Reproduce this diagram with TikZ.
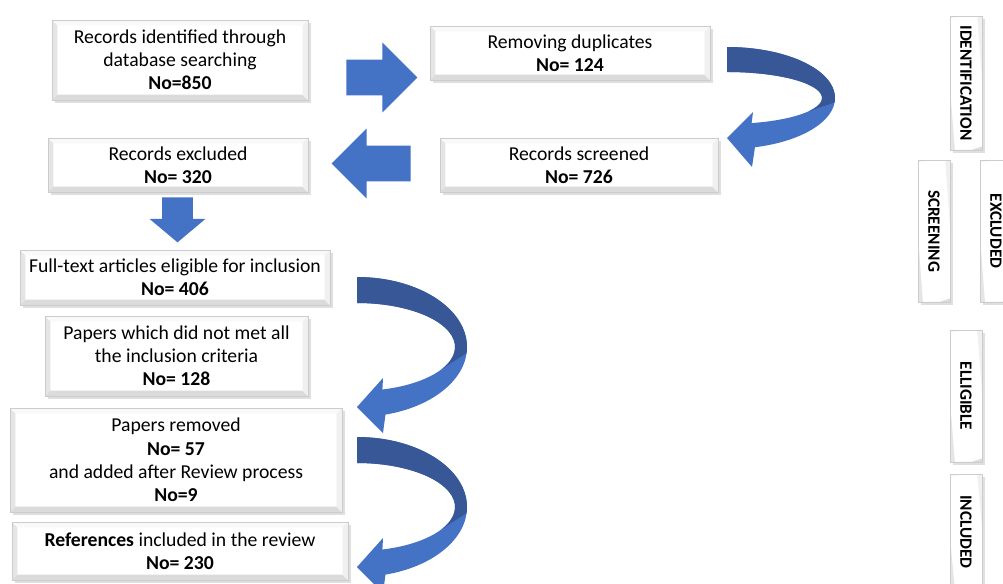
\documentclass[tikz,border=0pt]{standalone}
\usepackage{fontspec}
\setmainfont{Carlito}
\usetikzlibrary{shapes.arrows,shadows}
\definecolor{arrowblue}{RGB}{68,114,196}
\definecolor{arrowdark}{RGB}{56,87,150}

\begin{document}
\begin{tikzpicture}[x=0.02cm,y=0.02cm,
        bevel/.style={path picture={
            \fill[gray!20] (path picture bounding box.north west) -- (path picture bounding box.south west) -- ++(3pt,3pt) -- ([shift={(3pt,-3pt)}]path picture bounding box.north west) -- cycle;
            \fill[gray!28] (path picture bounding box.south west) -- (path picture bounding box.south east) -- ++(-3pt,3pt) -- ([shift={(3pt,3pt)}]path picture bounding box.south west) -- cycle;
            \fill[gray!12] (path picture bounding box.south east) -- (path picture bounding box.north east) -- ++(-3pt,-3pt) -- ([shift={(-3pt,3pt)}]path picture bounding box.south east) -- cycle;
            \fill[gray!5] (path picture bounding box.north east) -- (path picture bounding box.north west) -- ++(3pt,-3pt) -- ([shift={(-3pt,-3pt)}]path picture bounding box.north east) -- cycle;}},
        box/.style={rectangle,draw=gray!40,fill=white,align=center,inner sep=2pt,bevel,
            font=\fontsize{11.2}{13.2}\selectfont,
            drop shadow={opacity=0.25,shadow xshift=1.5pt,shadow yshift=-1.5pt}},
        stage/.style={box,rotate=-90,minimum height=0.64cm,font=\bfseries\fontsize{9.8}{11}\selectfont},
        blockarrow/.style={single arrow,fill=arrowblue,draw=none,inner xsep=0pt,single arrow tip angle=90,anchor=tail}]
        \useasboundingbox (0,0) rectangle (1003,583);
        \node[box,minimum width=5.12cm,minimum height=1.6cm] (ident) at (180,523) {Records identified through\\database searching\\\textbf{No=850}};
        \node[box,minimum width=5.6cm,minimum height=1.08cm] (dupl) at (570,530) {Removing duplicates\\\textbf{No= 124}};
        \node[box,minimum width=5.2cm,minimum height=1.08cm] (excl) at (178,418) {Records excluded\\\textbf{No= 320}};
        \node[box,minimum width=5.56cm,minimum height=1.08cm] (screen) at (579,418) {Records screened\\\textbf{No= 726}};
        \node[box,minimum width=6.2cm,minimum height=1.1cm] (fulltext) at (175,305.5) {Full-text articles eligible for inclusion\\\textbf{No= 406}};
        \node[box,minimum width=5.26cm,minimum height=1.6cm] (notmet) at (176.5,227) {Papers which did not met all\\the inclusion criteria\\\textbf{No= 128}};
        \node[box,minimum width=6.64cm,minimum height=2.08cm] (removed) at (176,123) {Papers removed\\\textbf{No= 57}\\and added after Review process\\\textbf{No=9}};
        \node[box,minimum width=6.72cm,minimum height=1.16cm] (incl) at (180,32) {\textbf{References} included in the review\\\textbf{No= 230}};

        \node[stage,minimum width=2.68cm] (stident) at (966,500) {IDENTIFICATION};
        \node[stage,minimum width=2.84cm] (stscreen) at (934,352) {SCREENING};
        \node[stage,minimum width=2.84cm] (stexcl) at (996,352) {EXCLUDED};
        \node[stage,minimum width=2.64cm] (stelig) at (966,187) {ELLIGIBLE};
        \node[stage,minimum width=2.3cm] (stincl) at (966,51) {INCLUDED};

        \node[blockarrow,minimum height=1.42cm,inner ysep=0.35cm,single arrow head extend=0.34cm] (arr1) at (346,505.5) {};
        \node[blockarrow,minimum height=1.58cm,inner ysep=0.35cm,single arrow head extend=0.34cm,rotate=180] (arr2) at (411,419.5) {};
        \node[blockarrow,minimum height=0.9cm,inner ysep=0.3cm,single arrow head extend=0.25cm,single arrow tip angle=100,rotate=270] (arr3) at (177.5,386) {};

        \begin{scope}[shift={(727,485)}]
            \fill[arrowblue] (0,51) arc[start angle=90,end angle=-75,x radius=108,y radius=51] -- (25,-69) -- (0,-40) -- (26,-14) -- (24.6,-25.1) arc[start angle=-75,end angle=90,x radius=95,y radius=26] -- cycle;
            \fill[arrowdark] (0,51) arc[start angle=90,end angle=-5,x radius=108,y radius=51] -- (82.3,-13) arc[start angle=-30,end angle=90,x radius=95,y radius=26] -- cycle;
        \end{scope}
        \foreach \cy in {236,76}{
            \begin{scope}[shift={(357,\cy)}]
                \fill[arrowblue] (0,70) arc[start angle=90,end angle=-75,x radius=110,y radius=70] -- (26,-86) -- (0,-60) -- (26,-31) -- (25.4,-42.5) arc[start angle=-75,end angle=90,x radius=98,y radius=44] -- cycle;
                \fill[arrowdark] (0,70) arc[start angle=90,end angle=-5,x radius=110,y radius=70] -- (84.9,-22) arc[start angle=-30,end angle=90,x radius=98,y radius=44] -- cycle;
            \end{scope}
        }
\end{tikzpicture}
\end{document}
